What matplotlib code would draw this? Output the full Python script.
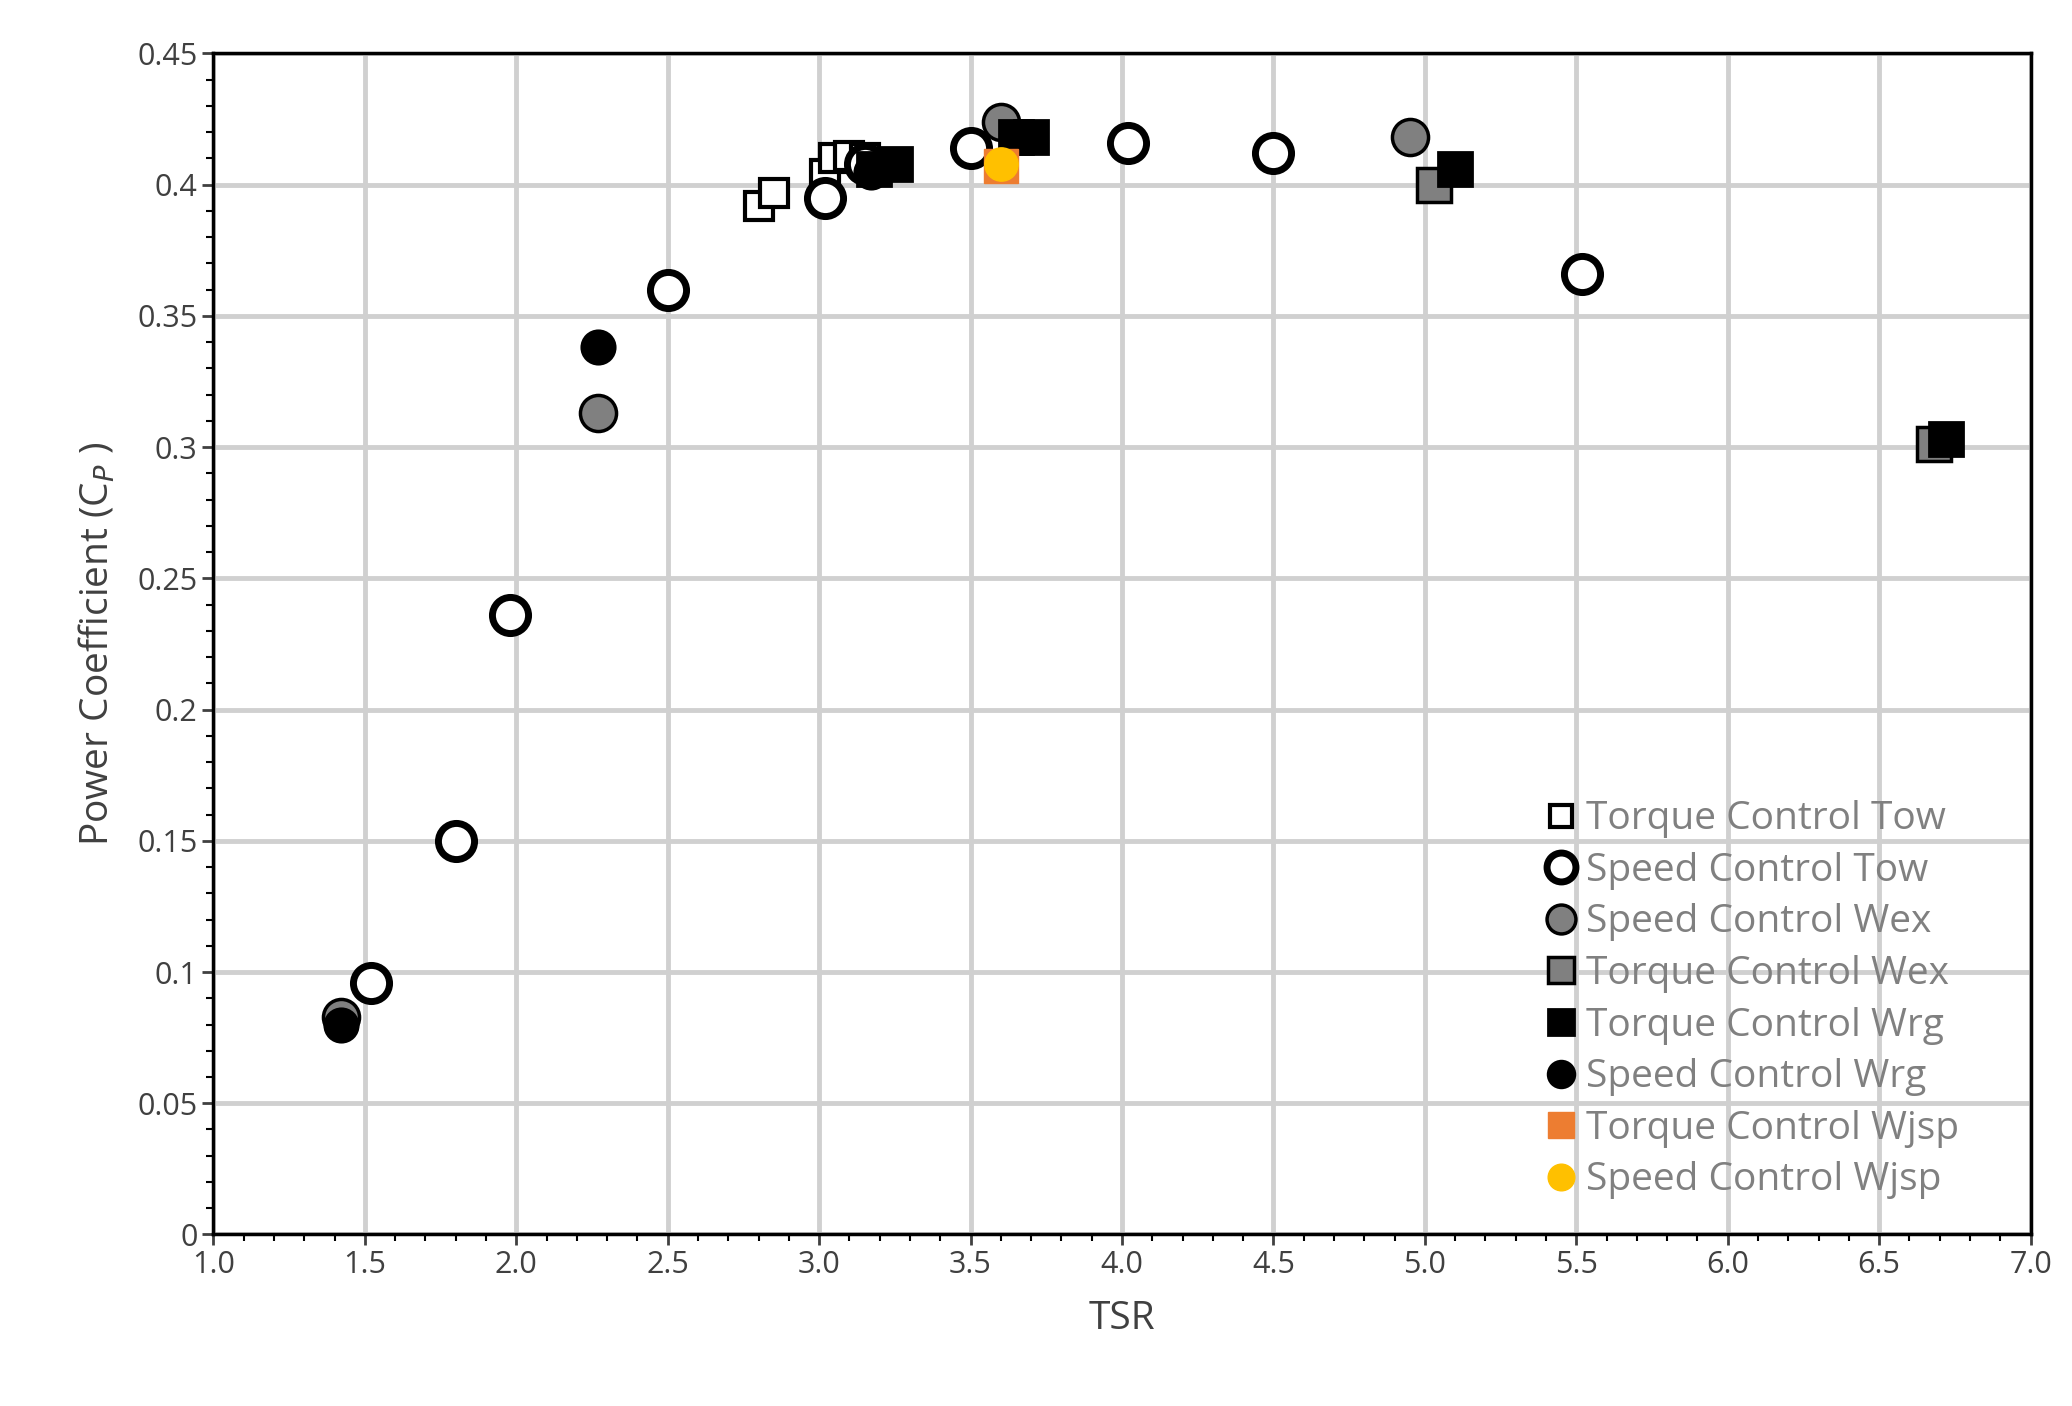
import matplotlib.pyplot as plt
from matplotlib.ticker import MultipleLocator, FuncFormatter

plt.rcParams['font.family'] = ['Open Sans', 'DejaVu Sans']

# (TSR, Cp) per series
tc_tow_x = [2.80, 2.85, 3.02, 3.05, 3.10, 3.15]
tc_tow_y = [0.392, 0.397, 0.404, 0.410, 0.411, 0.410]
sc_tow_x = [1.52, 1.80, 1.98, 2.50, 3.02, 3.15, 3.50, 4.02, 4.50, 5.52]
sc_tow_y = [0.096, 0.150, 0.236, 0.360, 0.395, 0.408, 0.414, 0.416, 0.412, 0.366]
sc_wex_x = [1.42, 2.27, 3.60, 4.95]
sc_wex_y = [0.083, 0.313, 0.424, 0.418]
tc_wex_x = [5.03, 6.68]
tc_wex_y = [0.400, 0.301]
tc_wrg_x = [3.18, 3.25, 3.65, 3.70, 5.10, 6.72]
tc_wrg_y = [0.406, 0.408, 0.418, 0.418, 0.406, 0.303]
sc_wrg_x = [1.42, 2.27, 3.17]
sc_wrg_y = [0.080, 0.338, 0.405]
tc_wjsp_x = [3.60]
tc_wjsp_y = [0.407]
sc_wjsp_x = [3.60]
sc_wjsp_y = [0.408]

fig = plt.figure(figsize=(20.72, 14.06), dpi=100)
ax = fig.add_axes([0.103, 0.122, 0.877, 0.84])

ms = 20
ax.plot(tc_tow_x, tc_tow_y, 's', ms=ms, mfc='white', mec='black', mew=3, label='Torque Control Tow')
ax.plot(sc_tow_x, sc_tow_y, 'o', ms=ms + 6, mfc='white', mec='black', mew=5, label='Speed Control Tow')
ax.plot(sc_wex_x, sc_wex_y, 'o', ms=ms + 6, mfc='#808080', mec='black', mew=2.5, label='Speed Control Wex')
ax.plot(tc_wex_x, tc_wex_y, 's', ms=ms + 4, mfc='#808080', mec='black', mew=2.5, label='Torque Control Wex')
ax.plot(tc_wrg_x, tc_wrg_y, 's', ms=ms + 4, mfc='black', mec='black', mew=2, label='Torque Control Wrg')
ax.plot(sc_wrg_x, sc_wrg_y, 'o', ms=ms + 4, mfc='black', mec='black', mew=2, label='Speed Control Wrg')
ax.plot(tc_wjsp_x, tc_wjsp_y, 's', ms=ms + 4, mfc='#ED7D31', mec='#ED7D31', mew=1, label='Torque Control Wjsp')
ax.plot(sc_wjsp_x, sc_wjsp_y, 'o', ms=ms + 4, mfc='#FFC000', mec='#FFC000', mew=1, label='Speed Control Wjsp')

ax.set_xlim(1.0, 7.0)
ax.set_ylim(0, 0.45)
ax.xaxis.set_major_locator(MultipleLocator(0.5))
ax.xaxis.set_minor_locator(MultipleLocator(0.1))
ax.yaxis.set_major_locator(MultipleLocator(0.05))
ax.yaxis.set_minor_locator(MultipleLocator(0.01))
ax.xaxis.set_major_formatter(FuncFormatter(lambda v, p: f'{v:.1f}'))
ax.yaxis.set_major_formatter(FuncFormatter(lambda v, p: f'{round(v, 2):g}'))
ax.grid(True, which='major', color='#d0d0d0', lw=3.5)
ax.set_axisbelow(True)
ax.tick_params(which='major', labelsize=22, length=8, width=2, colors='#404040')
ax.tick_params(which='minor', length=5, width=1.5)
for s in ax.spines.values():
    s.set_linewidth(2.5)

ax.set_xlabel('TSR', fontsize=28, color='#404040', labelpad=14)
ax.set_ylabel('Power Coefficient (C$_P$ )', fontsize=28, color='#404040', labelpad=14)

leg = ax.legend(loc='lower right', bbox_to_anchor=(0.98, 0.0), frameon=False, fontsize=28,
                handletextpad=0.05, labelspacing=0.35, markerscale=0.8, handlelength=1.2)
for t in leg.get_texts():
    t.set_color('#808080')

fig.savefig('out.png', dpi=100)
